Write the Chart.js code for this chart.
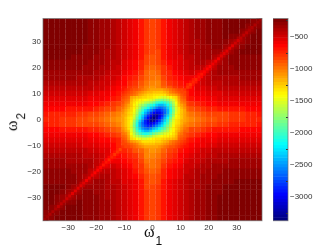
<!DOCTYPE html>
<html>
<head>
<meta charset="utf-8">
<script src="https://cdn.jsdelivr.net/npm/chart.js@4"></script>
<style>
html, body { margin: 0; padding: 0; background: #fff; width: 332px; height: 250px; overflow: hidden; }
canvas { position: absolute; top: 0; }
.axis-title { position: absolute; font-family: "Liberation Serif", serif; color: #111; white-space: nowrap; line-height: 1; }
.axis-title .w { font-size: 16px; }
.axis-title .n { font-size: 12px; position: relative; top: 8px; font-family: "Liberation Sans", sans-serif; margin-left: 1px; }
</style>
</head>
<body>
<canvas id="heat" style="left:0" width="332" height="250"></canvas>
<canvas id="bar" style="left:273px" width="59" height="250"></canvas>
<div class="axis-title" style="left:144px;top:224px"><span class="w">ω</span><span class="n">1</span></div>
<div class="axis-title" style="left:3px;top:114px;transform:rotate(-90deg);transform-origin:center"><span class="w">ω</span><span class="n">2</span></div>
<script>
// Axis values
const omegaTicks = [-30, -20, -10, 0, 10, 20, 30];
const colorTicks = [-3000, -2500, -2000, -1500, -1000, -500];
const colorMin = -3370;
const colorMax = -211;

// Cell centres of the two sampled grids
const omegaCoarse = [-38,-36,-34,-32,-30,-28,-26,-24,-22,-20,-18,-16,-14,-12,-10,-8,-6,-4,-2,0,2,4,6,8,10,12,14,16,18,20,22,24,26,28,30,32,34,36,38];
const omegaFine = [-10.5,-9.5,-8.5,-7.5,-6.5,-5.5,-4.5,-3.5,-2.5,-1.5,-0.5,0.5,1.5,2.5,3.5,4.5,5.5,6.5,7.5,8.5,9.5,10.5,11.5];

// Depth of each cell (plotted value is minus this), rows run from omega2 = 38 down to -38
const coarseRows = [
[230,230,230,230,235,240,245,255,270,290,315,345,380,415,475,520,570,660,780,830,790,670,580,530,485,425,390,355,325,300,280,265,255,250,245,240,255,265,275],
[230,230,230,230,235,240,245,255,270,290,315,345,380,415,475,520,570,660,780,830,790,670,580,530,485,425,390,355,325,300,280,265,255,250,245,255,280,285,280],
[230,230,230,230,235,240,245,255,270,290,315,345,380,415,475,520,570,660,780,830,790,670,580,530,485,425,390,355,325,300,280,265,255,250,260,290,295,285,255],
[230,230,230,230,235,240,245,255,270,290,315,345,380,415,475,520,570,660,780,830,790,670,580,530,485,425,390,355,325,300,280,265,255,270,305,305,295,260,240],
[235,235,235,235,240,245,250,260,275,295,320,350,385,420,480,525,575,665,785,835,795,675,585,535,490,430,395,360,330,305,285,270,280,320,320,310,265,245,245],
[240,240,240,240,245,250,255,265,280,300,325,355,390,425,485,530,580,670,790,840,800,680,590,540,495,435,400,365,335,310,290,300,335,335,325,275,250,250,250],
[245,245,245,245,250,255,260,270,285,305,330,360,395,430,490,535,585,675,795,845,805,685,595,545,500,440,405,370,340,315,320,355,350,340,285,255,255,255,255],
[255,255,255,255,260,265,270,280,295,315,340,370,405,440,500,545,595,685,805,855,815,695,605,555,510,450,415,380,350,350,380,365,355,300,270,265,265,265,265],
[270,270,270,270,275,280,285,295,310,330,355,385,420,455,515,560,620,715,835,885,845,725,630,570,525,465,430,395,390,415,395,380,320,290,285,280,280,280,280],
[290,290,290,290,295,300,305,315,330,350,375,405,440,475,535,580,655,750,870,920,880,760,665,590,545,485,450,440,455,430,410,350,315,310,305,300,300,300,300],
[315,315,315,315,320,325,330,340,355,375,400,430,465,500,560,615,695,790,910,960,920,800,705,625,570,510,495,510,480,455,385,350,340,335,330,325,325,325,325],
[345,345,345,345,350,355,360,370,385,405,430,460,495,540,610,665,740,830,950,1000,960,840,750,675,610,560,565,530,500,435,395,380,370,365,360,355,355,355,355],
[380,380,380,380,385,390,395,405,420,440,465,495,530,580,650,710,790,880,1000,1050,1010,890,800,720,670,625,590,555,495,450,430,415,405,400,395,390,390,390,390],
[415,415,415,415,420,425,430,440,455,475,500,530,575,640,700,760,850,950,1040,1090,1050,950,860,790,740,680,620,555,510,485,465,450,440,435,430,425,425,425,425],
[475,475,475,475,480,485,490,500,515,535,560,590,625,690,720,765,815,905,1025,1075,1035,915,825,810,850,730,650,600,570,545,525,510,500,495,490,485,485,485,485],
[520,520,520,520,525,530,535,545,560,580,605,635,670,730,765,810,860,950,1070,1120,1080,960,870,920,810,745,680,645,615,590,570,555,545,540,535,530,530,530,530],
[570,570,570,570,575,580,585,595,610,630,670,710,760,820,815,860,910,1000,1120,1170,1130,1010,920,870,825,820,760,710,670,640,620,605,595,590,585,580,580,580,580],
[620,630,640,650,660,670,680,690,700,720,765,805,850,910,905,950,1000,1090,1210,1260,1220,1100,1010,960,915,910,860,810,770,730,710,695,685,680,670,660,650,640,630],
[700,705,710,720,730,745,765,780,810,840,880,925,970,1020,1025,1070,1120,1210,1330,1380,1340,1220,1130,1080,1035,1030,980,935,890,850,830,815,805,800,780,760,740,720,700],
[720,730,740,755,770,785,805,830,860,890,930,975,1015,1065,1075,1120,1170,1260,1380,1430,1380,1260,1170,1120,1075,1065,1015,975,930,890,860,830,805,785,770,755,740,730,720],
[700,720,740,760,780,800,805,815,830,850,890,935,980,1030,1035,1080,1130,1220,1340,1380,1330,1210,1120,1070,1025,1020,970,925,880,840,810,780,765,745,730,720,710,705,700],
[630,640,650,660,670,680,685,695,710,730,770,810,860,910,915,960,1010,1100,1220,1260,1210,1090,1000,950,905,910,850,805,765,720,700,690,680,670,660,650,640,630,620],
[580,580,580,580,585,590,595,605,620,640,670,710,760,820,825,870,920,1010,1130,1170,1120,1000,910,860,815,820,760,710,670,630,610,595,585,580,575,570,570,570,570],
[530,530,530,530,535,540,545,555,570,590,615,645,680,745,810,920,870,960,1080,1120,1070,950,860,810,765,730,670,635,605,580,560,545,535,530,525,520,520,520,520],
[485,485,485,485,490,495,500,510,525,545,570,600,650,730,850,810,825,915,1035,1075,1025,905,815,765,720,690,625,590,560,535,515,500,490,485,480,475,475,475,475],
[425,425,425,425,430,435,440,450,465,485,510,555,620,680,740,790,860,950,1050,1090,1040,950,850,760,700,640,575,530,500,475,455,440,430,425,420,415,415,415,415],
[390,390,390,390,395,400,405,415,430,450,495,555,590,625,670,720,800,890,1010,1050,1000,880,790,710,650,580,530,495,465,440,420,405,395,390,385,380,380,380,380],
[355,355,355,355,360,365,370,380,395,435,500,530,565,560,610,675,750,840,960,1000,950,830,740,665,610,540,495,460,430,405,385,370,360,355,350,345,345,345,345],
[325,325,325,325,330,335,340,350,385,455,480,510,495,510,570,625,705,800,920,960,910,790,695,615,560,500,465,430,400,375,355,340,330,325,320,315,315,315,315],
[300,300,300,300,305,310,315,350,410,430,455,440,450,485,545,590,665,760,880,920,870,750,655,580,535,475,440,405,375,350,330,315,305,300,295,290,290,290,290],
[280,280,280,280,285,290,320,380,395,415,390,395,430,465,525,570,630,725,845,885,835,715,620,560,515,455,420,385,355,330,310,295,285,280,275,270,270,270,270],
[265,265,265,265,270,300,355,365,380,350,350,380,415,450,510,555,605,695,815,855,805,685,595,545,500,440,405,370,340,315,295,280,270,265,260,255,255,255,255],
[255,255,255,255,285,340,350,355,320,315,340,370,405,440,500,545,595,685,805,845,795,675,585,535,490,430,395,360,330,305,285,270,260,255,250,245,245,245,245],
[250,250,250,275,325,335,335,300,290,310,335,365,400,435,495,540,590,680,800,840,790,670,580,530,485,425,390,355,325,300,280,265,255,250,245,240,240,240,240],
[245,245,265,310,320,320,280,270,285,305,330,360,395,430,490,535,585,675,795,835,785,665,575,525,480,420,385,350,320,295,275,260,250,245,240,235,235,235,235],
[240,260,295,305,305,270,255,265,280,300,325,355,390,425,485,530,580,670,790,830,780,660,570,520,475,415,380,345,315,290,270,255,245,240,235,230,230,230,230],
[255,285,295,290,260,250,255,265,280,300,325,355,390,425,485,530,580,670,790,830,780,660,570,520,475,415,380,345,315,290,270,255,245,240,235,230,230,230,230],
[280,285,280,255,245,250,255,265,280,300,325,355,390,425,485,530,580,670,790,830,780,660,570,520,475,415,380,345,315,290,270,255,245,240,235,230,230,230,230],
[275,265,255,240,245,250,255,265,280,300,325,355,390,425,485,530,580,670,790,830,780,660,570,520,475,415,380,345,315,290,270,255,245,240,235,230,230,230,230]
];

// Centre of the picture at finer sampling, rows from top to bottom
const fineRows = [
[690,730,780,820,860,900,950,1000,1040,1090,1110,1120,1130,1130,1120,1090,1040,980,930,890,840,810,800],
[730,780,830,870,910,960,1010,1060,1110,1160,1180,1200,1210,1210,1200,1170,1110,1050,1000,950,880,850,810],
[780,830,880,950,1000,1040,1100,1160,1210,1260,1280,1300,1320,1340,1330,1300,1230,1150,1100,1060,1000,880,840],
[820,870,950,1100,1160,1200,1240,1270,1290,1310,1340,1380,1430,1480,1510,1500,1480,1420,1340,1250,1060,950,890],
[860,910,1000,1160,1280,1320,1350,1370,1400,1460,1500,1580,1700,1780,1800,1780,1700,1600,1500,1340,1100,1000,930],
[900,960,1040,1200,1320,1420,1470,1520,1600,1680,1760,1850,2000,2080,2100,2050,1950,1800,1600,1420,1150,1050,980],
[950,1010,1100,1240,1350,1470,1620,1720,1830,1950,2050,2150,2300,2400,2400,2300,2180,1950,1700,1480,1230,1110,1040],
[1000,1060,1160,1270,1370,1520,1720,1900,2030,2170,2290,2400,2580,2640,2620,2510,2300,2050,1780,1500,1300,1170,1090],
[1040,1110,1210,1290,1400,1600,1830,2030,2250,2400,2560,2700,2840,2860,2760,2620,2400,2100,1800,1510,1330,1200,1120],
[1090,1160,1260,1310,1460,1680,1950,2170,2400,2600,2800,2970,3050,3000,2860,2640,2400,2080,1780,1480,1340,1210,1130],
[1110,1180,1280,1340,1500,1760,2050,2290,2560,2800,3000,3180,3230,3050,2840,2580,2300,2000,1700,1430,1320,1210,1130],
[1120,1200,1300,1380,1580,1850,2150,2400,2700,2970,3180,3350,3180,2970,2700,2400,2150,1850,1580,1380,1300,1200,1120],
[1130,1210,1320,1430,1700,2000,2300,2580,2840,3050,3230,3180,3000,2800,2560,2290,2050,1760,1500,1340,1280,1180,1110],
[1130,1210,1340,1480,1780,2080,2400,2640,2860,3000,3050,2970,2800,2600,2400,2170,1950,1680,1460,1310,1260,1160,1090],
[1120,1200,1330,1510,1800,2100,2400,2620,2760,2860,2840,2700,2560,2400,2250,2030,1830,1600,1400,1290,1210,1110,1040],
[1090,1170,1300,1500,1780,2050,2300,2510,2620,2640,2580,2400,2290,2170,2030,1900,1720,1520,1370,1270,1160,1060,1000],
[1040,1110,1230,1480,1700,1950,2180,2300,2400,2400,2300,2150,2050,1950,1830,1720,1620,1470,1350,1240,1100,1010,950],
[980,1050,1150,1420,1600,1800,1950,2050,2100,2080,2000,1850,1760,1680,1600,1520,1470,1420,1320,1200,1040,960,900],
[930,1000,1100,1340,1500,1600,1700,1780,1800,1780,1700,1580,1500,1460,1400,1370,1350,1320,1280,1160,1000,910,860],
[890,950,1060,1250,1340,1420,1480,1500,1510,1480,1430,1380,1340,1310,1290,1270,1240,1200,1160,1100,950,870,820],
[840,880,1000,1060,1100,1150,1230,1300,1330,1340,1320,1300,1280,1260,1210,1160,1100,1040,1000,950,880,830,780],
[810,850,880,950,1000,1050,1110,1170,1200,1210,1210,1200,1180,1160,1110,1060,1010,960,910,870,830,780,730],
[800,810,840,890,930,980,1040,1090,1120,1130,1130,1120,1110,1090,1040,1000,950,900,860,820,780,730,690]
];

// Thin diagonal ridge outside the centre: position, depth on it, depth just beside it
const ridgeSteps = [-38.5,-37.5,-36.5,-35.5,-34.5,-33.5,-32.5,-31.5,-30.5,-29.5,-28.5,-27.5,-26.5,-25.5,-24.5,-23.5,-22.5,-21.5,-20.5,-19.5,-18.5,-17.5,-16.5,-15.5,-14.5,-13.5,-12.5,-11.5,12.5,13.5,14.5,15.5,16.5,17.5,18.5,19.5,20.5,21.5,22.5,23.5,24.5,25.5,26.5,27.5,28.5,29.5,30.5,31.5,32.5,33.5,34.5,35.5,36.5,37.5,38.5];
const ridgeCore = [340,345,360,375,390,410,430,450,470,490,510,520,530,540,550,565,580,590,610,630,650,680,700,720,740,770,790,810,790,770,740,720,700,680,650,630,610,590,580,565,550,540,530,520,510,490,470,450,430,410,390,375,360,345,330];
const ridgeSide = [285,285,295,300,315,325,340,350,370,375,385,390,405,420,430,440,450,470,490,520,550,580,610,640,670,700,720,740,720,700,670,640,610,580,550,520,490,470,450,440,430,420,405,390,385,375,370,350,340,325,315,300,295,285,280];

// Matlab jet map in 64 steps
function jetColor(value) {
    const level = Math.min(63, Math.max(0, Math.floor((value - colorMin) / (colorMax - colorMin) * 64)));
    const t = level / 63;
    const part = d => Math.round(255 * Math.min(1, Math.max(0, 1.5 - Math.abs(4 * t - d))));
    return `rgb(${part(3)},${part(2)},${part(1)})`;
}

function cellStyle(data, colors, radius) {
    return {
        data: data,
        pointStyle: 'rect',
        pointRadius: radius,
        pointBorderWidth: 0,
        pointBackgroundColor: colors,
        showLine: false
    };
}

// One dataset of square cells per grid
function cellDataset(xValues, rows, radius) {
    const data = [];
    const colors = [];
    rows.forEach((row, r) => {
        row.forEach((depth, c) => {
            data.push({ x: xValues[c], y: xValues[xValues.length - 1 - r] });
            colors.push(jetColor(-depth));
        });
    });
    return cellStyle(data, colors, radius);
}

// Ridge cells, the side ones first so the core stays on top
function ridgeDataset(radius) {
    const data = [];
    const colors = [];
    ridgeSteps.forEach((p, i) => {
        data.push({ x: p + 1, y: p }, { x: p, y: p + 1 });
        colors.push(jetColor(-ridgeSide[i]), jetColor(-ridgeSide[i]));
    });
    ridgeSteps.forEach((p, i) => {
        data.push({ x: p, y: p });
        colors.push(jetColor(-ridgeCore[i]));
    });
    return cellStyle(data, colors, radius);
}

const minusSign = v => String(v).replace('-', '\u2212');
const tickFont = { family: '"Liberation Sans", sans-serif', size: 8 };

// Thin box round the plot area
const framePlugin = {
    id: 'frame',
    afterDraw(chart) {
        const a = chart.chartArea;
        const ctx = chart.ctx;
        ctx.save();
        ctx.strokeStyle = 'rgba(110,110,110,0.7)';
        ctx.lineWidth = 1;
        ctx.strokeRect(a.left, a.top, a.right - a.left, a.bottom - a.top);
        ctx.restore();
    }
};

// First dataset is painted last, so the fine grid goes first
new Chart(document.getElementById('heat'), {
    type: 'scatter',
    data: {
        datasets: [
            cellDataset(omegaFine, fineRows, 2.1),
            ridgeDataset(2.1),
            cellDataset(omegaCoarse, coarseRows, 4.05)
        ]
    },
    plugins: [framePlugin],
    options: {
        responsive: false,
        animation: false,
        events: [],
        layout: { padding: { left: 0, top: 18.5, right: 70, bottom: 0 } },
        plugins: { legend: { display: false }, tooltip: { enabled: false } },
        scales: {
            x: {
                type: 'linear', min: -39, max: 39,
                afterBuildTicks: s => { s.ticks = omegaTicks.map(v => ({ value: v })); },
                afterFit: s => { s.height = 29.3; },
                grid: { display: false, drawTicks: false },
                border: { display: false },
                ticks: { font: tickFont, color: '#333', maxRotation: 0, padding: 2, callback: minusSign }
            },
            y: {
                type: 'linear', min: -39, max: 39,
                afterBuildTicks: s => { s.ticks = omegaTicks.map(v => ({ value: v })); },
                afterFit: s => { s.width = 43; },
                grid: { display: false, drawTicks: false },
                border: { display: false },
                ticks: { font: tickFont, color: '#333', padding: 2, callback: minusSign }
            }
        }
    }
});

// Colour bar: one thin horizontal bar per level
const barLevels = [];
for (let i = 0; i < 64; i++) {
    barLevels.push(colorMin + (i + 0.5) * (colorMax - colorMin) / 64);
}

new Chart(document.getElementById('bar'), {
    type: 'bar',
    data: {
        datasets: [{
            data: barLevels.map(v => ({ x: 1, y: v })),
            backgroundColor: barLevels.map(jetColor),
            barPercentage: 1,
            categoryPercentage: 1,
            borderWidth: 0
        }]
    },
    plugins: [framePlugin],
    options: {
        indexAxis: 'y',
        responsive: false,
        animation: false,
        events: [],
        layout: { padding: { left: 0, top: 18.5, right: 0, bottom: 29.3 } },
        plugins: { legend: { display: false }, tooltip: { enabled: false } },
        scales: {
            x: { type: 'linear', min: 0, max: 1, display: false },
            y: {
                type: 'linear', position: 'right', offset: false, min: colorMin, max: colorMax,
                afterBuildTicks: s => { s.ticks = colorTicks.map(v => ({ value: v })); },
                afterFit: s => { s.width = 44; },
                grid: { drawOnChartArea: false, tickLength: -2, tickColor: '#333', z: 1 },
                border: { display: false },
                ticks: { font: tickFont, color: '#333', padding: 4, callback: minusSign }
            }
        }
    }
});
</script>
</body>
</html>
